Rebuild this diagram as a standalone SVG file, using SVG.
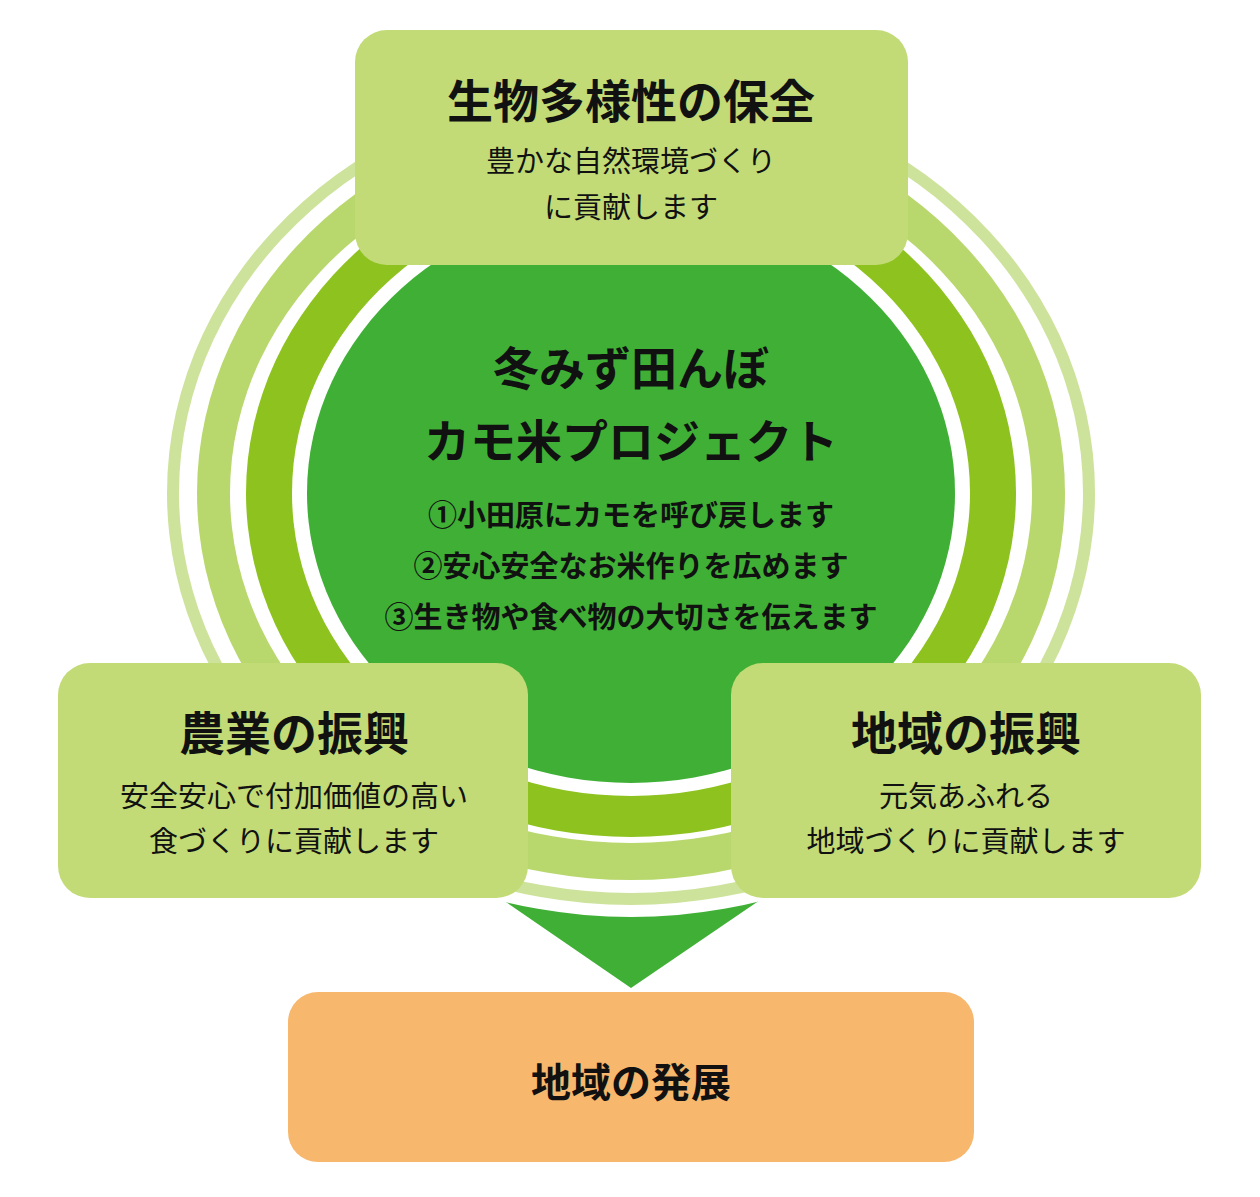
<svg xmlns="http://www.w3.org/2000/svg" width="1260" height="1197" viewBox="0 0 1260 1197">
<style>
text{font-family:"Noto Sans CJK JP","Noto Sans",sans-serif;fill:#111;text-anchor:middle}
.t{font-size:46px;font-weight:700}
.s{font-size:29px;font-weight:400}
.i{font-size:29px;font-weight:700}
.box{fill:#c2db76}
</style>
<rect width="1260" height="1197" fill="#fff"/>
<g id="connectors">
<polygon points="500,898 763,898 631,988" fill="#3fb035"/>
</g>
<g id="rings">
<ellipse cx="631" cy="493" rx="478" ry="424" fill="#fff"/>
<ellipse cx="631" cy="493" rx="464" ry="412" fill="#cde39b"/>
<ellipse cx="631" cy="493" rx="452" ry="400" fill="#fff"/>
<ellipse cx="631" cy="493" rx="434" ry="387" fill="#b8d86e"/>
<ellipse cx="631" cy="493" rx="401" ry="350" fill="#fff"/>
<ellipse cx="631" cy="493" rx="385" ry="344" fill="#8dc21f"/>
<ellipse cx="631" cy="493" rx="339" ry="303" fill="#fff"/>
<ellipse cx="631" cy="493" rx="324" ry="290" fill="#3fb035"/>
</g>
<g id="center">
<text class="t" x="631" y="385">冬みず田んぼ</text>
<text class="t" x="631" y="458">カモ米プロジェクト</text>
<text class="i" x="631" y="526">①小田原にカモを呼び戻します</text>
<text class="i" x="631" y="577">②安心安全なお米作りを広めます</text>
<text class="i" x="631" y="628">③生き物や食べ物の大切さを伝えます</text>
</g>
<g id="top">
<rect class="box" x="355" y="30" width="553" height="235" rx="32"/>
<text class="t" x="631" y="118">生物多様性の保全</text>
<text class="s" x="631" y="172">豊かな自然環境づくり</text>
<text class="s" x="631" y="218">に貢献します</text>
</g>
<g id="left">
<rect class="box" x="58" y="663" width="470" height="235" rx="32"/>
<text class="t" x="294" y="750">農業の振興</text>
<text class="s" x="294" y="807">安全安心で付加価値の高い</text>
<text class="s" x="294" y="852">食づくりに貢献します</text>
</g>
<g id="right">
<rect class="box" x="731" y="663" width="470" height="235" rx="32"/>
<text class="t" x="966" y="750">地域の振興</text>
<text class="s" x="966" y="807">元気あふれる</text>
<text class="s" x="966" y="852">地域づくりに貢献します</text>
</g>
<g id="bottom">
<rect x="288" y="992" width="686" height="170" rx="30" fill="#f7b76d"/>
<text x="631" y="1097" style="font-size:40px;font-weight:700">地域の発展</text>
</g>
</svg>
